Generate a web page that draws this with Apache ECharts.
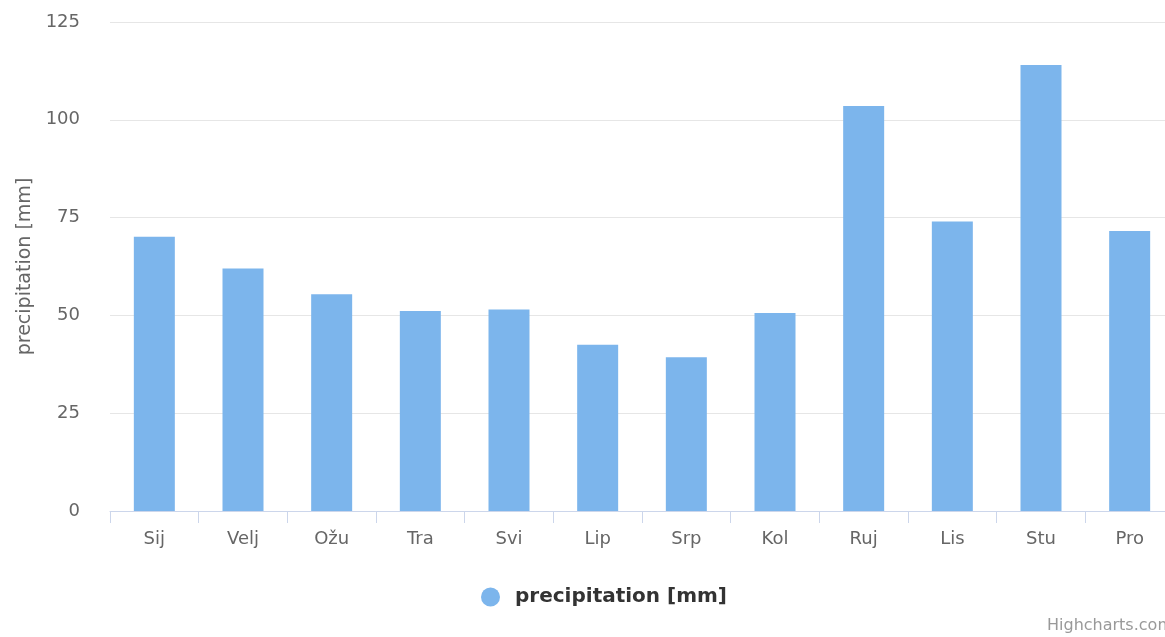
<!DOCTYPE html>
<html>
<head>
<meta charset="utf-8">
<script src="https://cdn.jsdelivr.net/npm/echarts@6/dist/echarts.min.js"></script>
<style>
html,body{margin:0;padding:0;background:#fff;overflow:hidden;width:1165px;height:637px;}
#chart{width:1176px;height:637px;}
</style>
</head>
<body>
<div id="chart"></div>
<script>
const categories = ['Sij','Velj','Ožu','Tra','Svi','Lip','Srp','Kol','Ruj','Lis','Stu','Pro'];
const precipitation = [70.1, 62.0, 55.4, 51.1, 51.5, 42.5, 39.3, 50.6, 103.5, 74.0, 114.0, 71.6];
const seriesName = 'precipitation [mm]';
const yTicks = [0, 25, 50, 75, 100, 125];

const FONT = '"DejaVu Sans", "Lucida Grande", sans-serif';
const chart = echarts.init(document.getElementById('chart'), null, {renderer: 'canvas'});
chart.setOption({
  animation: false,
  backgroundColor: '#ffffff',
  grid: {left: 110, width: 1064, top: 22, height: 489, containLabel: false},
  legend: {
    data: [{name: seriesName, icon: 'circle'}],
    left: 476, top: 582,
    itemWidth: 19, itemHeight: 19, itemGap: 8,
    textStyle: {fontFamily: FONT, fontSize: 20, fontWeight: 'bold', color: '#333333', padding: [0, 0, 0, 10]}
  },
  xAxis: {
    type: 'category',
    data: categories,
    axisLine: {lineStyle: {color: '#ccd6eb', width: 1}},
    axisTick: {show: true, length: 12, lineStyle: {color: '#ccd6eb'}},
    axisLabel: {fontFamily: FONT, fontSize: 18, color: '#666666', margin: 19}
  },
  yAxis: {
    type: 'value',
    min: yTicks[0], max: yTicks[yTicks.length - 1], interval: 25,
    name: seriesName,
    nameLocation: 'middle', nameGap: 71, nameRotate: 90,
    nameTextStyle: {fontFamily: FONT, fontSize: 19, color: '#666666'},
    axisLine: {show: false}, axisTick: {show: false},
    axisLabel: {fontFamily: FONT, fontSize: 18, color: '#666666', margin: 30},
    splitLine: {lineStyle: {color: '#e6e6e6', width: 1}}
  },
  series: [{
    name: seriesName,
    type: 'bar',
    data: precipitation,
    barWidth: 41,
    itemStyle: {color: '#7cb5ec'}
  }],
  graphic: [{
    type: 'text', left: 1047, top: 618,
    style: {text: 'Highcharts.com', fontFamily: FONT, fontSize: 16, fill: '#999999'}
  }]
});
</script>
</body>
</html>
